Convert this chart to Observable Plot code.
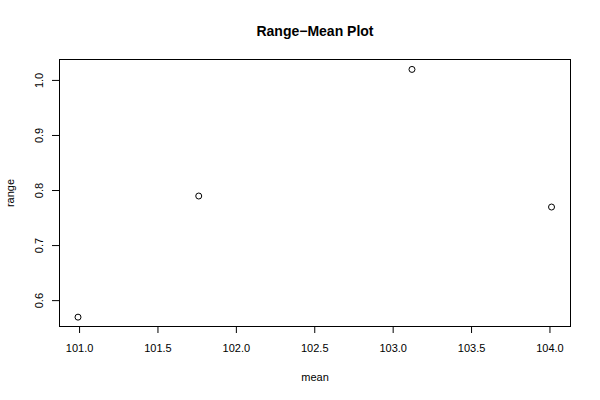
<!DOCTYPE html>
<html><head><meta charset="utf-8">
<script src="https://cdn.jsdelivr.net/npm/d3@7"></script>
<script src="https://cdn.jsdelivr.net/npm/@observablehq/plot@0.6"></script>
<style>body{margin:0;background:#fff}</style>
</head><body><div id="chart"></div>
<script>
const means = [100.99, 101.76, 103.12, 104.01];
const ranges = [0.57, 0.79, 1.02, 0.77];
const xTicks = [101.0, 101.5, 102.0, 102.5, 103.0, 103.5, 104.0];
const yTicks = [0.6, 0.7, 0.8, 0.9, 1.0];
const title = "Range\u2212Mean Plot";

const data = means.map((m, i) => ({mean: m, range: ranges[i]}));
const font = "Liberation Sans, Arial, Helvetica, sans-serif";

const chart = Plot.plot({
  width: 600, height: 400,
  marginLeft: 59, marginRight: 30, marginTop: 59, marginBottom: 74,
  style: {fontFamily: font, fontSize: "11px", background: "#fff", color: "#000"},
  x: {domain: [100.872, 104.131]},
  y: {domain: [0.553, 1.038]},
  marks: [
    Plot.frame({stroke: "#000", strokeWidth: 1}),
    Plot.axisX({ticks: xTicks, tickFormat: d3.format(".1f"), tickSize: 7, tickPadding: 11,
      label: "mean", labelAnchor: "center", labelArrow: "none", labelOffset: 54, fontSize: 11}),
    Plot.axisY({ticks: yTicks, tickFormat: d3.format(".1f"), tickSize: 7, tickPadding: 10, tickRotate: -90,
      label: "range", labelAnchor: "center", labelArrow: "none", labelOffset: 53, fontSize: 11}),
    Plot.dot(data, {x: "mean", y: "range", r: 3, stroke: "#000", strokeWidth: 1, fill: "none"}),
    Plot.text([title], {text: d => d, frameAnchor: "top", dy: -33, fontWeight: "bold", fontSize: 14})
  ]
});
document.getElementById("chart").appendChild(chart);
</script></body></html>
